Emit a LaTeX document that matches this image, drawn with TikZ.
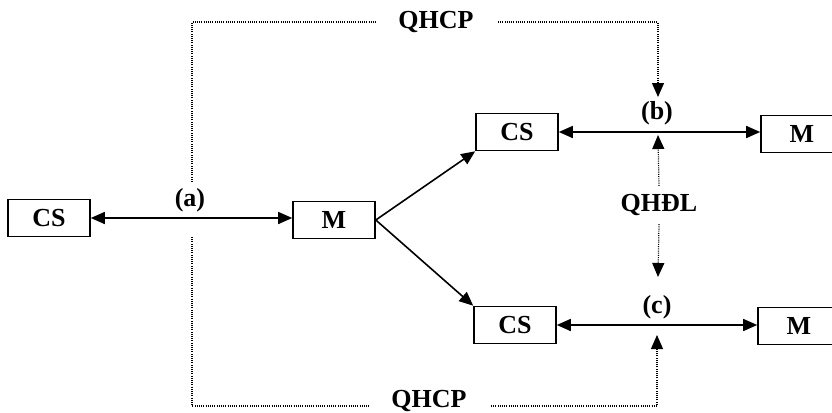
\documentclass[tikz,border=0pt]{standalone}
\usepackage{fontspec}
\setmainfont{Liberation Serif}
\usetikzlibrary{arrows.meta}
\begin{document}
\begin{tikzpicture}[x=0.5pt,y=-0.5pt,
  box/.style={draw,line width=0.8pt,minimum width=41pt,minimum height=18.5pt,inner sep=0pt,font=\bfseries\fontsize{13}{15}\selectfont},
  lbl/.style={inner sep=0pt,font=\bfseries\fontsize{13}{15}\selectfont},
  solidarrow/.style={line width=0.8pt,-{Triangle[length=7pt,width=6pt]}},
  dualarrow/.style={line width=0.8pt,{Triangle[length=7pt,width=6pt]}-{Triangle[length=7pt,width=6pt]}},
  dotline/.style={line width=0.6pt,dash pattern=on 0.5pt off 0.6pt},
  dotarrow/.style={dotline,-{Triangle[length=7pt,width=6pt]}}]
\useasboundingbox (0,0) rectangle (832,413);
\node[box] (cs1) at (49,218) {CS};
\node[box] (m1) at (334,220) {M};
\node[box] (cs2) at (517,132) {CS};
\node[box] (m2) at (802,134) {M};
\node[box] (cs3) at (515,325) {CS};
\node[box] (m3) at (799,326) {M};
\node[lbl] (la) at (190,200) {(a)};
\node[lbl] (lb) at (657,113) {(b)};
\node[lbl] (lc) at (657,307) {(c)};
\node[lbl] (qhdl) at (659,205) {QHĐL};
\node[lbl] (qt) at (436,22) {QHCP};
\node[lbl] (qb) at (429,401) {QHCP};
% solid connectors
\draw[dualarrow] (cs1.east) -- (m1.west |- cs1.east);
\draw[dualarrow] (cs2.east) -- (m2.west |- cs2.east);
\draw[dualarrow] (cs3.east) -- (m3.west |- cs3.east);
\draw[solidarrow] (m1.east) -- (cs2.south west);
\draw[solidarrow] (m1.east) -- (cs3.north west);
% dotted QHCP lines
\coordinate (a1) at (192,182);
\coordinate (a2) at (192,237);
\coordinate (tb) at (658,97);
\coordinate (bc) at (657,335);
\draw[dotline] (a1) -- (192,22) -- ([xshift=-11pt]qt.west);
\draw[dotarrow] ([xshift=12pt]qt.east) -- (658,22) -- (tb);
\draw[dotline] (a2) -- (192,406) -- ([xshift=-11pt]qb.west |- 0,406);
\draw[dotarrow] ([xshift=12pt]qb.east |- 0,406) -- (657,406) -- (bc);
% QHDL
\coordinate (up) at (658,135);
\coordinate (dn) at (658,277);
\draw[dotarrow] ([yshift=4pt]qhdl.north) -- (up);
\draw[dotarrow] ([yshift=-4pt]qhdl.south) -- (dn);
\end{tikzpicture}
\end{document}
